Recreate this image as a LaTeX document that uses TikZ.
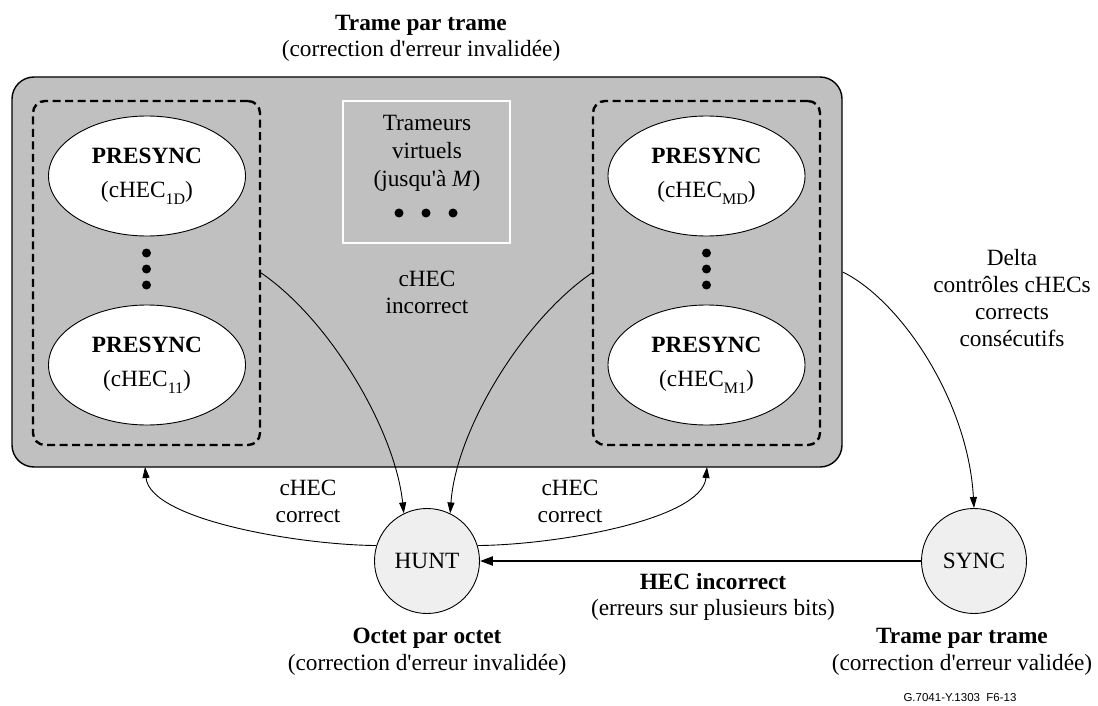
\documentclass[tikz,border=0pt]{standalone}
\usepackage{fontspec}
\setmainfont{Liberation Serif}[Ligatures=TeXOff]
\newfontfamily\arialf{Liberation Sans}
\usetikzlibrary{arrows.meta,shapes.geometric}
\definecolor{boxgrey}{HTML}{C0C0C0}
\definecolor{stategrey}{HTML}{EFEFEF}
\newcommand\sbt[1]{\raisebox{-0.3em}{\fontsize{16}{16}\selectfont #1}}
\begin{document}
\begin{tikzpicture}[x=1pt,y=-1pt,
  txt/.style={font=\fontsize{23.3}{27}\selectfont, align=center, inner sep=0pt},
  presync/.style={ellipse, draw, fill=white, line width=0.9pt, minimum width=197pt, minimum height=120pt, inner sep=0pt, txt},
  dashbox/.style={draw, dash pattern=on 8pt off 4.5pt, line width=2.4pt, rounded corners=12pt, minimum width=227pt, minimum height=344pt, inner sep=0pt},
  state/.style={circle, draw, fill=stategrey, line width=0.9pt, minimum size=105pt, inner sep=0pt, txt},
  conn/.style={line width=0.9pt, -{Triangle[length=11pt,width=7pt]}},
  blackdot/.style={circle, fill=black, inner sep=0pt, minimum size=9pt}
]
\useasboundingbox (0,0) rectangle (1098,706);
\fill[white] (0,0) rectangle (1098,706);

% main frame
\node[draw, fill=boxgrey, line width=1.4pt, rounded corners=22pt, minimum width=830pt, minimum height=390pt, inner sep=0pt] (frame) at (427,272) {};

% dashed groups
\node[dashbox] (boxL) at (146.5,273) {};
\node[dashbox] (boxR) at (706.5,273) {};

% presync ellipses
\node[presync] (e1D) at (147,176) {\textbf{PRESYNC}\\[7pt](cHEC\sbt{1D})};
\node[presync] (e11) at (147,365) {\textbf{PRESYNC}\\[7pt](cHEC\sbt{11})};
\node[presync] (eMD) at (706.5,176) {\textbf{PRESYNC}\\[7pt](cHEC\sbt{MD})};
\node[presync] (eM1) at (706.5,365) {\textbf{PRESYNC}\\[7pt](cHEC\sbt{M1})};

% vertical dots
\node[blackdot] (dl1) at (146.5,253) {};
\node[blackdot] (dl2) at (146.5,269) {};
\node[blackdot] (dl3) at (146.5,285) {};
\node[blackdot] (dr1) at (706.5,253) {};
\node[blackdot] (dr2) at (706.5,269) {};
\node[blackdot] (dr3) at (706.5,285) {};

% virtual framers box
\node[draw=white, line width=2pt, minimum width=167pt, minimum height=142pt, inner sep=0pt] (virt) at (426.5,172) {};
\node[txt, font=\fontsize{23.3}{28}\selectfont] (virttxt) at (427,153) {Trameurs\\virtuels\\(jusqu'à \textit{M})};
\node[blackdot] (dh1) at (399,213) {};
\node[blackdot] (dh2) at (426,213) {};
\node[blackdot] (dh3) at (453,213) {};

\node[txt] (inc) at (427,292) {cHEC\\incorrect};

% states
\node[state] (hunt) at (427,561) {HUNT};
\node[state] (sync) at (974,561) {SYNC};

\coordinate (cL) at (145,467);
\coordinate (cR) at (707,467);

% connectors
\draw[conn] (boxL.east) .. controls (330,320) and (395,430) .. (hunt.116);
\draw[conn] (boxR.west) .. controls (523,320) and (456,430) .. (hunt.64);
\draw[conn] (hunt.163) .. controls (300,545) and (150,520) .. (cL);
\draw[conn] (hunt.17) .. controls (555,545) and (702,520) .. (cR);
\draw[conn] (frame.east) .. controls (900,300) and (968,400) .. (sync.north);
\draw[line width=2.2pt, -{Triangle[length=13pt,width=9pt]}] (sync.west) -- (hunt.east);

% labels
\node[txt, font=\fontsize{23.3}{26}\selectfont] (title) at (421,38) {\textbf{Trame par trame}\\(correction d'erreur invalidée)};
\node[txt] (cl1) at (308,501) {cHEC\\correct};
\node[txt] (cl2) at (570,501) {cHEC\\correct};
\node[txt] (delta) at (1012,298) {Delta\\contrôles cHECs\\corrects\\consécutifs};
\node[txt, font=\fontsize{23.3}{26}\selectfont] (hec) at (713,597) {\textbf{HEC incorrect}\\(erreurs sur plusieurs bits)};
\node[txt] (octet) at (427,652) {\textbf{Octet par octet}\\(correction d'erreur invalidée)};
\node[txt] (tpt) at (962,652) {\textbf{Trame par trame}\\(correction d'erreur validée)};
\node[font=\arialf\fontsize{11.5}{12}\selectfont, inner sep=0pt] (fig) at (960,698) {G.7041-Y.1303\ \ F6-13};
\end{tikzpicture}
\end{document}
